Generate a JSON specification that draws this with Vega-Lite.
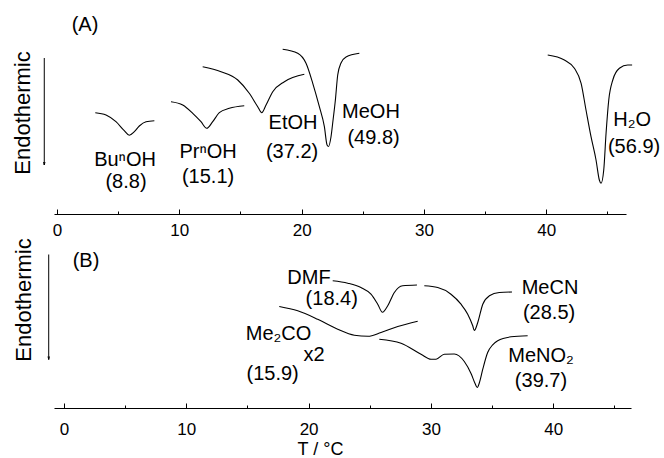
{
  "$schema": "https://vega.github.io/schema/vega-lite/v6.json",
  "padding": {"left": 12, "top": 10, "right": 0, "bottom": 0},
  "spacing": 0,
  "config": {
    "view": {"stroke": null},
    "font": "Liberation Sans",
    "axis": {"grid": false, "domainColor": "black", "tickColor": "black", "labelColor": "black", "titleColor": "black"}
  },
  "datasets": {
    "curvesA": [
      {"series": "BuOH", "T": 3.13, "h": 101.3}, {"series": "BuOH", "T": 4.01, "h": 99}, {"series": "BuOH", "T": 4.82, "h": 92.3}, {"series": "BuOH", "T": 5.5, "h": 83.3}, {"series": "BuOH", "T": 5.91, "h": 78.7}, {"series": "BuOH", "T": 6.32, "h": 82.3}, {"series": "BuOH", "T": 6.73, "h": 88}, {"series": "BuOH", "T": 7.28, "h": 92.3}, {"series": "BuOH", "T": 7.96, "h": 93.3},
      {"series": "PrOH", "T": 9.32, "h": 112.3}, {"series": "PrOH", "T": 10.28, "h": 109}, {"series": "PrOH", "T": 11.1, "h": 100.7}, {"series": "PrOH", "T": 11.77, "h": 92.3}, {"series": "PrOH", "T": 12.24, "h": 85.7}, {"series": "PrOH", "T": 12.73, "h": 92.3}, {"series": "PrOH", "T": 13.27, "h": 101.3}, {"series": "PrOH", "T": 14.09, "h": 105.7}, {"series": "PrOH", "T": 15.31, "h": 108.3},
      {"series": "EtOH", "T": 11.91, "h": 147.3}, {"series": "EtOH", "T": 13.41, "h": 142.3}, {"series": "EtOH", "T": 14.78, "h": 134}, {"series": "EtOH", "T": 15.72, "h": 120.7}, {"series": "EtOH", "T": 16.41, "h": 107.3}, {"series": "EtOH", "T": 16.74, "h": 101.3}, {"series": "EtOH", "T": 17.09, "h": 109}, {"series": "EtOH", "T": 17.64, "h": 122.3}, {"series": "EtOH", "T": 18.59, "h": 132.3}, {"series": "EtOH", "T": 20.22, "h": 139.7},
      {"series": "MeOH", "T": 18.45, "h": 164.7}, {"series": "MeOH", "T": 19.68, "h": 160.7}, {"series": "MeOH", "T": 20.36, "h": 150.7}, {"series": "MeOH", "T": 20.91, "h": 130.7}, {"series": "MeOH", "T": 21.45, "h": 107.3}, {"series": "MeOH", "T": 21.86, "h": 87.3}, {"series": "MeOH", "T": 22.08, "h": 69}, {"series": "MeOH", "T": 22.2, "h": 67.5}, {"series": "MeOH", "T": 22.4, "h": 77}, {"series": "MeOH", "T": 22.57, "h": 94}, {"series": "MeOH", "T": 22.76, "h": 114}, {"series": "MeOH", "T": 22.95, "h": 139}, {"series": "MeOH", "T": 23.22, "h": 151}, {"series": "MeOH", "T": 23.63, "h": 157}, {"series": "MeOH", "T": 24.72, "h": 160.7},
      {"series": "H2O", "T": 40.12, "h": 159}, {"series": "H2O", "T": 41.48, "h": 154}, {"series": "H2O", "T": 42.3, "h": 145.7}, {"series": "H2O", "T": 42.85, "h": 130.7}, {"series": "H2O", "T": 43.25, "h": 104}, {"series": "H2O", "T": 43.66, "h": 77.3}, {"series": "H2O", "T": 44.07, "h": 54}, {"series": "H2O", "T": 44.34, "h": 34}, {"series": "H2O", "T": 44.48, "h": 30.7}, {"series": "H2O", "T": 44.7, "h": 44}, {"series": "H2O", "T": 44.89, "h": 80.7}, {"series": "H2O", "T": 45.11, "h": 114}, {"series": "H2O", "T": 45.44, "h": 134}, {"series": "H2O", "T": 45.98, "h": 145.7}, {"series": "H2O", "T": 46.66, "h": 149}, {"series": "H2O", "T": 47.02, "h": 149}
    ],
    "labelsA": [
      {"text": "(A)", "T": 2.29, "h": 189},
      {"text": "BuⁿOH", "T": 5.56, "h": 54}, {"text": "(8.8)", "T": 5.64, "h": 32},
      {"text": "PrⁿOH", "T": 12.35, "h": 62}, {"text": "(15.1)", "T": 12.35, "h": 37},
      {"text": "EtOH", "T": 19.3, "h": 91}, {"text": "(37.2)", "T": 19.22, "h": 62},
      {"text": "MeOH", "T": 25.67, "h": 102}, {"text": "(49.8)", "T": 25.88, "h": 76},
      {"text": "H₂O", "T": 47.02, "h": 94}, {"text": "(56.9)", "T": 47.18, "h": 67}
    ],
    "sideA": [{"text": "Endothermic", "T": -2.74, "h": 101, "Ta": -1.04, "top": 156, "bottom": 49}],
    "curvesB": [
      {"series": "DMF", "T": 21.97, "h": 127.2}, {"series": "DMF", "T": 23.2, "h": 124.8}, {"series": "DMF", "T": 24.28, "h": 120.5}, {"series": "DMF", "T": 25.1, "h": 113.8}, {"series": "DMF", "T": 25.65, "h": 103.8}, {"series": "DMF", "T": 26.04, "h": 95.7}, {"series": "DMF", "T": 26.47, "h": 102.2}, {"series": "DMF", "T": 27.01, "h": 115.5}, {"series": "DMF", "T": 27.69, "h": 122.2}, {"series": "DMF", "T": 28.86, "h": 123},
      {"series": "MeCN", "T": 29.46, "h": 122.2}, {"series": "MeCN", "T": 30.56, "h": 120.5}, {"series": "MeCN", "T": 31.64, "h": 113.8}, {"series": "MeCN", "T": 32.46, "h": 103.8}, {"series": "MeCN", "T": 33.01, "h": 93.8}, {"series": "MeCN", "T": 33.42, "h": 82.2}, {"series": "MeCN", "T": 33.55, "h": 77.5}, {"series": "MeCN", "T": 33.83, "h": 85.5}, {"series": "MeCN", "T": 34.24, "h": 103.8}, {"series": "MeCN", "T": 34.78, "h": 112.2}, {"series": "MeCN", "T": 35.59, "h": 115.5}, {"series": "MeCN", "T": 36.63, "h": 116},
      {"series": "Me2CO", "T": 17.6, "h": 101.5}, {"series": "Me2CO", "T": 19.11, "h": 97.2}, {"series": "Me2CO", "T": 20.74, "h": 88.8}, {"series": "Me2CO", "T": 22.38, "h": 78.8}, {"series": "Me2CO", "T": 23.74, "h": 72.8}, {"series": "Me2CO", "T": 24.86, "h": 71.7}, {"series": "Me2CO", "T": 25.92, "h": 75.5}, {"series": "Me2CO", "T": 27.29, "h": 81.5}, {"series": "Me2CO", "T": 28.92, "h": 86.8},
      {"series": "MeNO2", "T": 25.78, "h": 68.8}, {"series": "MeNO2", "T": 27.56, "h": 64.8}, {"series": "MeNO2", "T": 29.19, "h": 53.8}, {"series": "MeNO2", "T": 30.01, "h": 48.8}, {"series": "MeNO2", "T": 30.42, "h": 48.8}, {"series": "MeNO2", "T": 31.1, "h": 53.8}, {"series": "MeNO2", "T": 31.91, "h": 54}, {"series": "MeNO2", "T": 32.73, "h": 46.5}, {"series": "MeNO2", "T": 33.28, "h": 34.5}, {"series": "MeNO2", "T": 33.61, "h": 24.5}, {"series": "MeNO2", "T": 33.79, "h": 20.5}, {"series": "MeNO2", "T": 33.97, "h": 25.5}, {"series": "MeNO2", "T": 34.24, "h": 38.8}, {"series": "MeNO2", "T": 34.64, "h": 55.5}, {"series": "MeNO2", "T": 35.05, "h": 63.2}, {"series": "MeNO2", "T": 35.46, "h": 67.2}, {"series": "MeNO2", "T": 36.55, "h": 71.2}, {"series": "MeNO2", "T": 37.91, "h": 72.2}
    ],
    "labelsB": [
      {"text": "(B)", "T": 1.8, "h": 147.5},
      {"text": "DMF", "T": 20.03, "h": 130.5}, {"text": "(18.4)", "T": 21.89, "h": 108.8},
      {"text": "MeCN", "T": 39.74, "h": 120.5}, {"text": "(28.5)", "T": 39.66, "h": 95.5},
      {"text": "Me₂CO", "T": 17.54, "h": 73.8}, {"text": "x2", "T": 20.44, "h": 53.5}, {"text": "(15.9)", "T": 17.06, "h": 33.8},
      {"text": "MeNO₂", "T": 39.0, "h": 52.5}, {"text": "(39.7)", "T": 39.0, "h": 27.5}
    ],
    "sideB": [{"text": "Endothermic", "T": -3.27, "h": 108, "Ta": -1.25, "top": 153.5, "bottom": 48.5}]
  },
  "vconcat": [
    {
      "width": 572,
      "height": 204,
      "encoding": {
        "x": {"field": "T", "type": "quantitative", "scale": {"domain": [-0.245, 46.52], "nice": false, "zero": false},
          "axis": {"title": null, "values": [0, 5, 10, 15, 20, 25, 30, 35, 40, 45], "labelExpr": "datum.value % 10 === 0 ? datum.label : ''",
            "tickSize": {"condition": {"test": "datum.value % 10 === 0", "value": -5}, "value": -3},
            "labelPadding": 13, "labelFontSize": 17, "labelFont": "Liberation Sans", "domainWidth": 1.2}},
        "y": {"field": "h", "type": "quantitative", "scale": {"domain": [0, 204], "nice": false, "zero": false}, "axis": null}
      },
      "layer": [
        {"data": {"name": "curvesA"}, "mark": {"type": "line", "interpolate": "monotone", "color": "black", "strokeWidth": 1.1}, "encoding": {"detail": {"field": "series"}}},
        {"data": {"name": "labelsA"}, "mark": {"type": "text", "fontSize": 20, "color": "black", "align": "center", "baseline": "middle"}, "encoding": {"text": {"field": "text"}}},
        {"data": {"name": "sideA"}, "mark": {"type": "text", "fontSize": 22, "color": "black", "angle": 270, "align": "center", "baseline": "middle"}, "encoding": {"text": {"field": "text"}}},
        {"data": {"name": "sideA"}, "mark": {"type": "rule", "color": "black", "strokeWidth": 1}, "encoding": {"x": {"field": "Ta", "type": "quantitative"}, "y": {"field": "top", "type": "quantitative"}, "y2": {"field": "bottom"}}},
        {"data": {"name": "sideA"}, "mark": {"type": "point", "shape": "M-0.35,-1.5L0,0L0.35,-1.5", "size": 16, "filled": false, "color": "black", "strokeWidth": 1, "opacity": 1}, "encoding": {"x": {"field": "Ta", "type": "quantitative"}, "y": {"field": "bottom", "type": "quantitative"}}}
      ]
    },
    {
      "width": 577,
      "height": 157,
      "encoding": {
        "x": {"field": "T", "type": "quantitative", "scale": {"domain": [-0.818, 46.36], "nice": false, "zero": false},
          "axis": {"title": "T / °C", "values": [0, 5, 10, 15, 20, 25, 30, 35, 40, 45], "labelExpr": "datum.value % 10 === 0 ? datum.label : ''",
            "tickSize": {"condition": {"test": "datum.value % 10 === 0", "value": -5}, "value": -3},
            "labelPadding": 18, "labelFontSize": 17, "labelFont": "Liberation Sans", "domainWidth": 1.2,
            "titleFont": "Liberation Sans", "titleFontSize": 18, "titleFontWeight": "normal", "titleX": 266, "titleY": 46, "titleBaseline": "alphabetic", "titleAlign": "center", "titleAnchor": null}},
        "y": {"field": "h", "type": "quantitative", "scale": {"domain": [0, 157], "nice": false, "zero": false}, "axis": null}
      },
      "layer": [
        {"data": {"name": "curvesB"}, "mark": {"type": "line", "interpolate": "monotone", "color": "black", "strokeWidth": 1.1}, "encoding": {"detail": {"field": "series"}}},
        {"data": {"name": "labelsB"}, "mark": {"type": "text", "fontSize": 20, "color": "black", "align": "center", "baseline": "middle"}, "encoding": {"text": {"field": "text"}}},
        {"data": {"name": "sideB"}, "mark": {"type": "text", "fontSize": 22, "color": "black", "angle": 270, "align": "center", "baseline": "middle"}, "encoding": {"text": {"field": "text"}}},
        {"data": {"name": "sideB"}, "mark": {"type": "rule", "color": "black", "strokeWidth": 1}, "encoding": {"x": {"field": "Ta", "type": "quantitative"}, "y": {"field": "top", "type": "quantitative"}, "y2": {"field": "bottom"}}},
        {"data": {"name": "sideB"}, "mark": {"type": "point", "shape": "M-0.35,-1.5L0,0L0.35,-1.5", "size": 16, "filled": false, "color": "black", "strokeWidth": 1, "opacity": 1}, "encoding": {"x": {"field": "Ta", "type": "quantitative"}, "y": {"field": "bottom", "type": "quantitative"}}}
      ]
    }
  ]
}
